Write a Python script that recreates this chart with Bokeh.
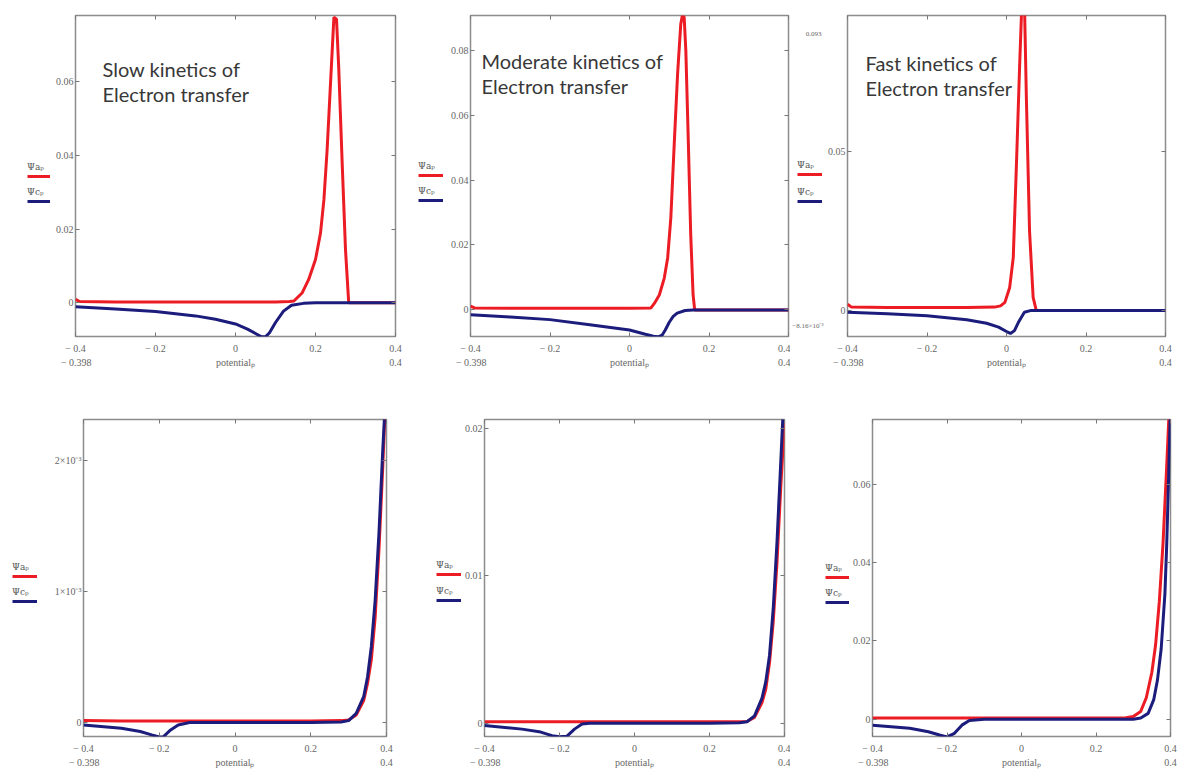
from bokeh.plotting import figure
from bokeh.models import (Range1d, FixedTicker, CustomJSTickFormatter, LinearAxis,
                          Legend, LegendItem, Label)
from bokeh.layouts import column, row
from bokeh.embed import file_html
from bokeh.resources import INLINE

# ---------------- data ----------------
x_ticks = [-0.4, -0.2, 0.0, 0.2, 0.4]
x_tick_labels = ["\u2212 0.4", "\u2212 0.2", "0", "0.2", "0.4"]
x_limit_ticks = [-0.398, 0.0, 0.4]
x_limit_labels = ["\u2212 0.398", "potential\u209a", "0.4"]
series_names = ["\u03a8a\u209a", "\u03a8c\u209a"]

titles = [["Slow kinetics of", "Electron transfer"],
          ["Moderate kinetics of", "Electron transfer"],
          ["Fast  kinetics of", "Electron transfer"]]

# top row ------------------------------------------------------
slow_top_yrange = [-0.0092, 0.078]
slow_top_yticks = [0.0, 0.02, 0.04, 0.06]
slow_top_ylabels = ["0", "0.02", "0.04", "0.06"]
slow_top_xa = [-0.4, -0.39, -0.3, -0.2, -0.1, 0.0, 0.1, 0.135, 0.146, 0.167, 0.183, 0.2, 0.2125,
               0.221, 0.229, 0.2375, 0.246, 0.2525, 0.258, 0.267, 0.275, 0.283, 0.3, 0.4]
slow_top_ya = [0.0009, 0.0003, 0.0002, 0.0002, 0.0002, 0.0002, 0.0002, 0.0003, 0.00045, 0.0027,
               0.0063, 0.0117, 0.0189, 0.0279, 0.0414, 0.0595, 0.0775, 0.077, 0.064, 0.037,
               0.0144, 0.0, 0.0, 0.0]
slow_top_xc = [-0.4, -0.3, -0.2, -0.1, -0.05, 0.0, 0.03, 0.05, 0.065, 0.075, 0.085, 0.1, 0.12,
               0.14, 0.17, 0.2, 0.3, 0.4]
slow_top_yc = [-0.0011, -0.0017, -0.0024, -0.0036, -0.0045, -0.0058, -0.0072, -0.0084, -0.0093,
               -0.0093, -0.0082, -0.0054, -0.0023, -0.0007, -0.0002, 0.0, 0.0, 0.0]

mod_top_yrange = [-0.0082, 0.0907]
mod_top_yticks = [0.0, 0.02, 0.04, 0.06, 0.08]
mod_top_ylabels = ["0", "0.02", "0.04", "0.06", "0.08"]
mod_top_xa = [-0.4, -0.39, -0.3, -0.2, -0.1, 0.0, 0.054, 0.0625, 0.075, 0.0875, 0.096, 0.104,
              0.1125, 0.121, 0.129, 0.133, 0.1375, 0.1417, 0.1475, 0.154, 0.16, 0.164, 0.2, 0.4]
mod_top_ya = [0.0012, 0.0006, 0.0005, 0.0005, 0.0005, 0.0005, 0.0006, 0.002, 0.0046, 0.0098,
              0.016, 0.0284, 0.051, 0.0727, 0.0881, 0.0907, 0.0902, 0.08, 0.054, 0.0232, 0.0046,
              0.0, 0.0, 0.0]
mod_top_xc = [-0.4, -0.3, -0.2, -0.1, 0.0, 0.04, 0.06, 0.072, 0.082, 0.09, 0.1, 0.11, 0.12, 0.14,
              0.16, 0.2, 0.4]
mod_top_yc = [-0.0015, -0.0022, -0.003, -0.0046, -0.0062, -0.0075, -0.0081, -0.0083, -0.0078,
              -0.0062, -0.0038, -0.002, -0.001, -0.0002, 0.0, 0.0, 0.0]

fast_top_yrange = [-0.00816, 0.093]
fast_top_yticks = [0.0, 0.05]
fast_top_ylabels = ["0", "0.05"]
fast_top_ylimit_labels = ["0.093", "\u22128.16\u00d710\u207b\u00b3"]
fast_top_xa = [-0.4, -0.39, -0.3, -0.2, -0.1, -0.03, -0.015, -0.004, 0.008, 0.017, 0.025, 0.033,
               0.039, 0.042, 0.045, 0.05, 0.058, 0.067, 0.075, 0.1, 0.4]
fast_top_ya = [0.002, 0.0011, 0.001, 0.001, 0.001, 0.0011, 0.0015, 0.0026, 0.0073, 0.0167, 0.046,
               0.077, 0.098, 0.103, 0.098, 0.067, 0.025, 0.0042, 0.0, 0.0, 0.0]
fast_top_xc = [-0.4, -0.3, -0.2, -0.1, -0.05, -0.02, 0.0, 0.01, 0.02, 0.03, 0.045, 0.06, 0.1, 0.4]
fast_top_yc = [-0.0005, -0.001, -0.0016, -0.0029, -0.004, -0.0052, -0.0066, -0.0072, -0.0063,
               -0.0037, -0.0005, 0.0, 0.0, 0.0]

# bottom row ---------------------------------------------------
slow_bot_yrange = [-0.000106, 0.00231]
slow_bot_yticks = [0.0, 0.001, 0.002]
slow_bot_ylabels = ["0", "1\u00d710\u207b\u00b3", "2\u00d710\u207b\u00b3"]
slow_bot_xa = [-0.4, -0.3, -0.2, -0.1, 0.0, 0.1, 0.2, 0.28, 0.3, 0.32, 0.34, 0.35, 0.36, 0.37,
               0.38, 0.39, 0.398]
slow_bot_ya = [0.000015, 0.000012, 0.000012, 0.000012, 0.000012, 0.000012, 0.000012, 0.000015,
               0.00002, 0.000058, 0.00017, 0.0003, 0.00048, 0.0008, 0.00131, 0.00194, 0.0025]
slow_bot_xc = [-0.4, -0.3, -0.25, -0.22, -0.2, -0.19, -0.17, -0.15, -0.12, 0.0, 0.2, 0.28, 0.3,
               0.32, 0.34, 0.35, 0.36, 0.37, 0.38, 0.39, 0.396]
slow_bot_yc = [-0.000018, -0.000043, -0.000068, -0.000094, -0.00011, -0.00011, -0.000056,
               -0.000018, 0.0, 0.0, 0.0, 0.000005, 0.000015, 0.00007, 0.0002, 0.00035, 0.00058,
               0.00093, 0.00144, 0.00207, 0.0024]

mod_bot_yrange = [-0.0009, 0.0206]
mod_bot_yticks = [0.0, 0.01, 0.02]
mod_bot_ylabels = ["0", "0.01", "0.02"]
mod_bot_xa = [-0.4, -0.3, -0.2, -0.1, 0.0, 0.1, 0.2, 0.28, 0.3, 0.32, 0.34, 0.35, 0.36, 0.37,
              0.38, 0.39, 0.4]
mod_bot_ya = [0.0001, 0.0001, 0.0001, 0.0001, 0.0001, 0.0001, 0.0001, 0.0001, 0.00012, 0.0004,
              0.0014, 0.0023, 0.0041, 0.0069, 0.0109, 0.016, 0.0205]
mod_bot_xc = [-0.4, -0.3, -0.25, -0.22, -0.2, -0.18, -0.16, -0.14, -0.12, 0.0, 0.2, 0.28, 0.3,
              0.32, 0.34, 0.35, 0.36, 0.37, 0.38, 0.39, 0.397]
mod_bot_yc = [-0.00016, -0.0004, -0.0006, -0.00084, -0.00092, -0.00088, -0.0004, -0.00005, 0.0,
              0.0, 0.0, 0.00003, 0.0001, 0.0005, 0.0017, 0.0028, 0.0046, 0.0078, 0.0123, 0.0177,
              0.0215]

fast_bot_yrange = [-0.0044, 0.0765]
fast_bot_yticks = [0.0, 0.02, 0.04, 0.06]
fast_bot_ylabels = ["0", "0.02", "0.04", "0.06"]
fast_bot_xa = [-0.4, -0.3, -0.2, -0.1, 0.0, 0.1, 0.2, 0.28, 0.3, 0.32, 0.335, 0.35, 0.36, 0.37,
               0.38, 0.39, 0.397]
fast_bot_ya = [0.0003, 0.0003, 0.0003, 0.0003, 0.0003, 0.0003, 0.0003, 0.0004, 0.0007, 0.002,
               0.0055, 0.012, 0.019, 0.03, 0.045, 0.065, 0.08]
fast_bot_xc = [-0.4, -0.3, -0.25, -0.22, -0.2, -0.18, -0.16, -0.14, -0.1, 0.0, 0.2, 0.3, 0.32,
               0.34, 0.355, 0.365, 0.375, 0.385, 0.39, 0.395, 0.4]
fast_bot_yc = [-0.0015, -0.0023, -0.0032, -0.004, -0.0045, -0.0036, -0.0015, -0.0003, 0.0, 0.0,
               0.0, 0.0, 0.0003, 0.0015, 0.005, 0.01, 0.018, 0.032, 0.045, 0.062, 0.08]

# ---------------- styling ----------------
RED = "#ec1c24"
BLUE = "#1c1c7c"
FRAME = "#8c8c8c"
TICK_FONT = "Liberation Serif"
TICK_COLOR = "#666666"
LEG_FONT = "DejaVu Serif"


def tick_fmt(vals, labs):
    return CustomJSTickFormatter(args=dict(vals=vals, labs=labs), code="""
        for (let i = 0; i < vals.length; i++) {
            if (Math.abs(vals[i] - tick) < 1e-9) return labs[i];
        }
        return '';
    """)


def style_axis(ax):
    ax.axis_line_color = None
    ax.major_tick_in = 4
    ax.major_tick_out = 0
    ax.major_tick_line_color = "#777777"
    ax.minor_tick_line_color = None
    ax.major_label_text_font = TICK_FONT
    ax.major_label_text_font_size = "10px"
    ax.major_label_text_color = TICK_COLOR


def make_panel(w, h, bl, br, bt, bb, yrange, yticks, ylabels, xa, ya, xc, yc,
               title=None, title_xy=None):
    p = figure(width=w, height=h, x_range=Range1d(-0.4, 0.4), y_range=Range1d(*yrange),
               output_backend="svg", toolbar_location=None,
               min_border_left=bl, min_border_right=br, min_border_top=bt, min_border_bottom=bb)
    p.grid.visible = False
    p.outline_line_color = FRAME
    p.outline_line_width = 1.5
    p.background_fill_color = "white"
    p.border_fill_color = "white"

    xax = p.xaxis[0]
    xax.ticker = FixedTicker(ticks=x_ticks)
    xax.formatter = tick_fmt(x_ticks, x_tick_labels)
    style_axis(xax)
    xax.major_label_standoff = 6

    # second row under the axis: range limits and the axis name
    xlim = LinearAxis(ticker=FixedTicker(ticks=x_limit_ticks),
                      formatter=tick_fmt(x_limit_ticks, x_limit_labels))
    style_axis(xlim)
    xlim.major_tick_line_color = None
    xlim.major_tick_in = 0
    xlim.major_label_standoff = 0
    p.add_layout(xlim, "below")

    yax = p.yaxis[0]
    yax.ticker = FixedTicker(ticks=yticks)
    yax.formatter = tick_fmt(yticks, ylabels)
    style_axis(yax)
    yax.major_label_standoff = 2

    blank = CustomJSTickFormatter(code="return '';")
    top = LinearAxis(ticker=FixedTicker(ticks=x_ticks), formatter=blank)
    style_axis(top)
    top.major_label_standoff = 0
    p.add_layout(top, "above")
    right = LinearAxis(ticker=FixedTicker(ticks=yticks), formatter=blank)
    style_axis(right)
    right.major_label_standoff = 0
    p.add_layout(right, "right")

    p.line(xa, ya, line_color=RED, line_width=3)
    p.line(xc, yc, line_color=BLUE, line_width=3)

    if title is not None:
        tx, ty = title_xy
        for i, line in enumerate(title):
            p.add_layout(Label(x=tx, y=ty - 25 * i, x_units="screen", y_units="screen",
                               text=line, text_font="Lato", text_font_size="20px",
                               text_color="#383838", text_baseline="alphabetic"))
    return p


def make_key(w, h, bt, bb, x0, y_red, y_blue, xa, ya, xc, yc, extra=None):
    """Narrow strip left of a panel holding its key (and any range labels).
    The key's ranges lie outside the data, so its own copies of the series
    only lend their line style to the key entries."""
    k = figure(width=w, height=h, x_range=Range1d(2, 3), y_range=Range1d(2, 3),
               output_backend="svg", toolbar_location=None,
               x_axis_location=None, y_axis_location=None,
               min_border_left=0, min_border_right=0, min_border_top=bt, min_border_bottom=bb)
    k.grid.visible = False
    k.outline_line_color = None
    k.background_fill_color = "white"
    k.border_fill_color = "white"
    for name, color, yb, sx, sy in ((series_names[0], RED, y_red, xa, ya),
                                    (series_names[1], BLUE, y_blue, xc, yc)):
        r = k.line(sx, sy, line_color=color, line_width=3)
        leg = Legend(items=[LegendItem(label=" ", renderers=[r])],
                     location=(x0, yb), orientation="vertical",
                     title=name, title_text_font=LEG_FONT, title_text_font_size="9px",
                     title_text_font_style="normal", title_text_color="#555555",
                     title_standoff=2,
                     glyph_width=25, glyph_height=4, label_height=4, label_width=0,
                     label_standoff=0, label_text_font_size="2px",
                     padding=0, margin=0, spacing=0,
                     border_line_color=None, background_fill_alpha=0)
        k.add_layout(leg)
    if extra is not None:
        for txt, ex, ey in extra:
            k.add_layout(Label(x=ex, y=ey, x_units="screen", y_units="screen", text=txt,
                               text_align="right", text_baseline="middle", text_font=TICK_FONT,
                               text_font_size="7px", text_color=TICK_COLOR))
    return k


TOP_BT, TOP_BB = 15, 49
BOT_BT, BOT_BB = 34, 37

k1 = make_key(50, 385, TOP_BT, TOP_BB, 27, 158, 133,
              slow_top_xa, slow_top_ya, slow_top_xc, slow_top_yc)
p1 = make_panel(355, 385, 25, 10, TOP_BT, TOP_BB, slow_top_yrange, slow_top_yticks,
                slow_top_ylabels, slow_top_xa, slow_top_ya, slow_top_xc, slow_top_yc,
                titles[0], (27, 268))
k2 = make_key(42, 385, TOP_BT, TOP_BB, 13, 159, 134,
              mod_top_xa, mod_top_ya, mod_top_xc, mod_top_yc)
p2 = make_panel(343, 385, 21, 2, TOP_BT, TOP_BB, mod_top_yrange, mod_top_yticks,
                mod_top_ylabels, mod_top_xa, mod_top_ya, mod_top_xc, mod_top_yc,
                titles[1], (11, 276))
k3 = make_key(34, 385, TOP_BT, TOP_BB, 7, 160, 133,
              fast_top_xa, fast_top_ya, fast_top_xc, fast_top_yc,
              extra=[(fast_top_ylimit_labels[0], 31, 303), (fast_top_ylimit_labels[1], 33, 11)])
p3 = make_panel(360, 385, 21, 19, TOP_BT, TOP_BB, fast_top_yrange, fast_top_yticks,
                fast_top_ylabels, fast_top_xa, fast_top_ya, fast_top_xc, fast_top_yc,
                titles[2], (18, 274))

k4 = make_key(40, 388, BOT_BT, BOT_BB, 12, 158, 133,
              slow_bot_xa, slow_bot_ya, slow_bot_xc, slow_bot_yc)
p4 = make_panel(365, 388, 43, 19, BOT_BT, BOT_BB, slow_bot_yrange, slow_bot_yticks,
                slow_bot_ylabels, slow_bot_xa, slow_bot_ya, slow_bot_xc, slow_bot_yc)
k5 = make_key(56, 388, BOT_BT, BOT_BB, 31, 160, 134,
              mod_bot_xa, mod_bot_ya, mod_bot_xc, mod_bot_yc)
p5 = make_panel(329, 388, 22, 6, BOT_BT, BOT_BB, mod_bot_yrange, mod_bot_yticks,
                mod_bot_ylabels, mod_bot_xa, mod_bot_ya, mod_bot_xc, mod_bot_yc)
k6 = make_key(59, 388, BOT_BT, BOT_BB, 35, 157, 132,
              fast_bot_xa, fast_bot_ya, fast_bot_xc, fast_bot_yc)
p6 = make_panel(335, 388, 20, 14, BOT_BT, BOT_BB, fast_bot_yrange, fast_bot_yticks,
                fast_bot_ylabels, fast_bot_xa, fast_bot_ya, fast_bot_xc, fast_bot_yc)

layout = column(row(k1, p1, k2, p2, k3, p3), row(k4, p4, k5, p5, k6, p6))
open("out.html", "w").write(file_html(layout, INLINE))
